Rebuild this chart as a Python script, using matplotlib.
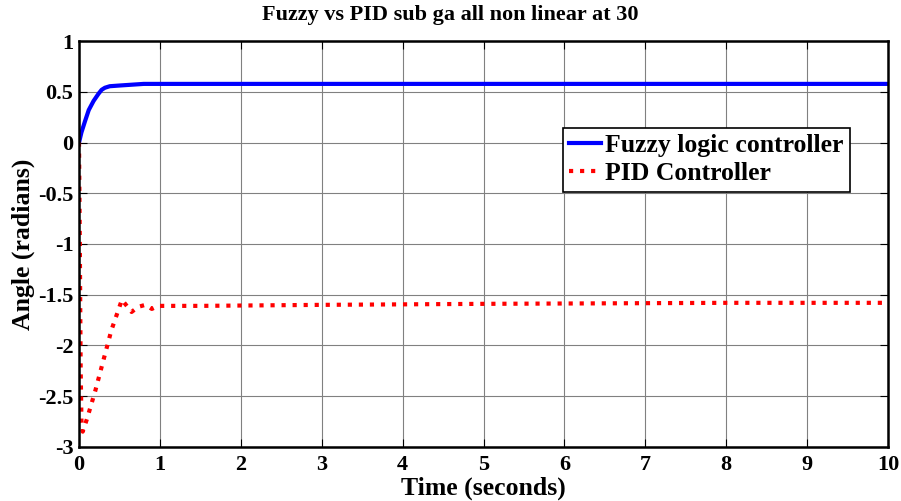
import numpy as np
import matplotlib.pyplot as plt

plt.rcParams['font.family'] = ['Liberation Serif', 'DejaVu Serif']
plt.rcParams['font.weight'] = 'bold'

# data
t_fuzzy = [0, 0.03, 0.074, 0.12, 0.18, 0.24, 0.28, 0.32, 0.38, 0.50, 0.65, 0.80, 2, 5, 10]
y_fuzzy = [0, 0.10, 0.21, 0.32, 0.41, 0.48, 0.52, 0.54, 0.555, 0.562, 0.57, 0.578, 0.578, 0.578, 0.578]

t_pid = [0, 0.01, 0.02, 0.03, 0.046, 0.10, 0.20, 0.30, 0.40, 0.53, 0.60, 0.65, 0.73, 0.82, 0.90, 0.98,
         1.5, 3, 5, 8, 10]
y_pid = [0, -1.0, -2.2, -2.75, -2.85, -2.72, -2.45, -2.15, -1.85, -1.55, -1.62, -1.67, -1.62, -1.60,
         -1.64, -1.61, -1.61, -1.60, -1.59, -1.58, -1.58]

fig = plt.figure(figsize=(9.01, 5.01), dpi=100)
ax = fig.add_axes([0.0877, 0.108, 0.898, 0.81])

ax.plot(t_fuzzy, y_fuzzy, color='b', lw=3, label='Fuzzy logic controller')
ax.plot(t_pid, y_pid, color='r', lw=3, ls=':', label='PID Controller')

ax.set_xlim(0, 10)
ax.set_ylim(-3, 1)
ax.set_xticks(np.arange(0, 11, 1))
ax.set_yticks(np.arange(-3, 1.01, 0.5))
ax.set_yticklabels(['-3', '-2.5', '-2', '-1.5', '-1', '-0.5', '0', '0.5', '1'])
ax.grid(True, color='#808080', lw=0.8)
ax.tick_params(direction='in', labelsize=16, length=6, top=True, right=True)
ax.tick_params(axis='x', pad=6)
ax.tick_params(axis='y', pad=4)
for s in ax.spines.values():
    s.set_linewidth(1.8)

ax.set_xlabel('Time (seconds)', fontsize=18.5, fontweight='bold', labelpad=1)
ax.set_ylabel('Angle (radians)', fontsize=18.5, fontweight='bold', labelpad=2)
ax.set_title('Fuzzy vs PID sub ga all non linear at 30', fontsize=16, fontweight='bold', pad=15, x=0.459)

leg = ax.legend(loc='upper left', bbox_to_anchor=(0.598, 0.786), fontsize=18.5, fancybox=False,
                framealpha=1, edgecolor='k', borderpad=0.25, handlelength=1.25, handletextpad=0.15,
                labelspacing=0.2, borderaxespad=0)
leg.get_frame().set_linewidth(1.2)

fig.savefig('out.png', dpi=100)
